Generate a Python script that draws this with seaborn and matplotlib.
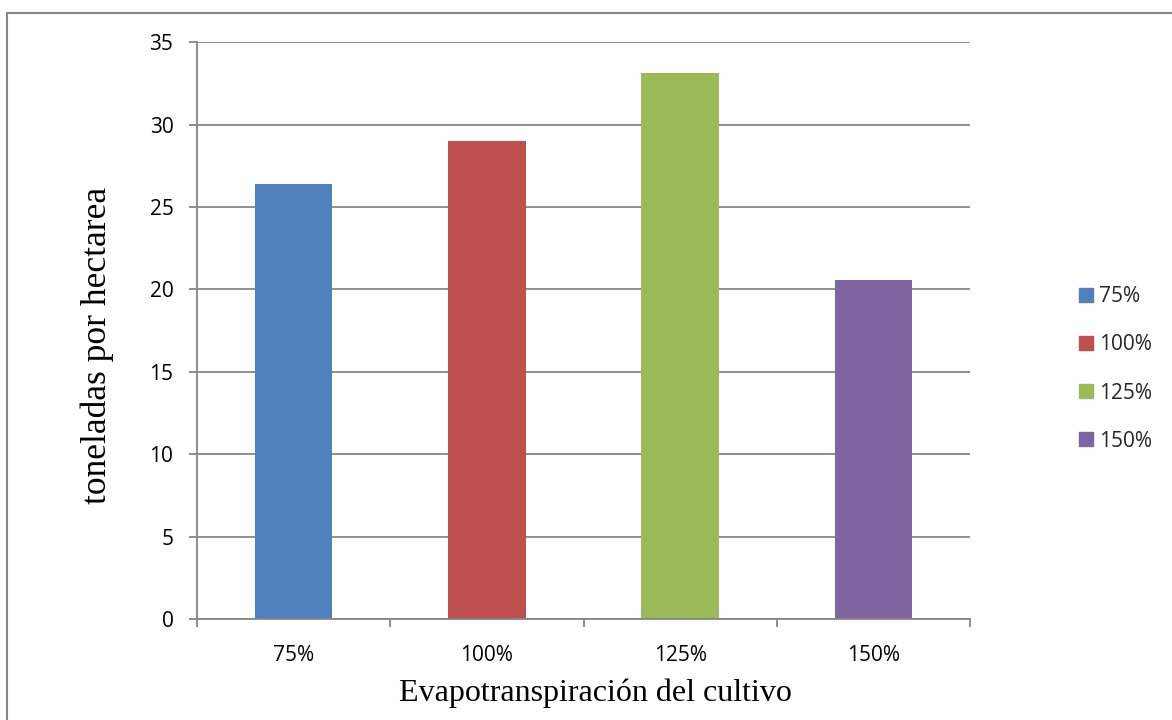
import matplotlib
matplotlib.use("Agg")
import matplotlib.pyplot as plt
import seaborn as sns
import pandas as pd
from matplotlib.lines import Line2D

# Yield by crop evapotranspiration level
categories = ["75%", "100%", "125%", "150%"]
yields = [26.4, 29.0, 33.15, 20.55]
colors = ["#4F81BD", "#C0504D", "#9BBB59", "#8064A2"]
y_ticks = [0, 5, 10, 15, 20, 25, 30, 35]

sns.set_theme(style="white")
plt.rcParams["font.family"] = ["Open Sans", "DejaVu Sans"]

df = pd.DataFrame({"etc": categories, "t_ha": yields})

fig = plt.figure(figsize=(11.72, 7.2), dpi=100)
ax = fig.add_axes([197 / 1172, 1 - 619 / 720, (970 - 197) / 1172, (619 - 42.3) / 720])

sns.barplot(data=df, x="etc", y="t_ha", hue="etc", palette=colors,
            order=categories, hue_order=categories, width=0.4,
            dodge=False, legend=False, saturation=1, linewidth=0, ax=ax)

grid_c = "#868686"
ax.set_ylim(0, 35)
ax.set_xlim(-0.5, 3.5)
ax.set_yticks(y_ticks)
ax.yaxis.grid(True, color=grid_c, linewidth=1.3)
ax.set_axisbelow(True)

for side in ("top", "right"):
    ax.spines[side].set_visible(False)
for side in ("left", "bottom"):
    ax.spines[side].set_color(grid_c)
    ax.spines[side].set_linewidth(1.3)

# category labels without marks; boundary tick marks between categories
ax.tick_params(axis="x", which="major", length=0, pad=19, labelsize=15, labelcolor="black")
ax.set_xticks([-0.5, 0.5, 1.5, 2.5, 3.5], minor=True)
ax.tick_params(axis="x", which="minor", length=6, width=1.3, color=grid_c, direction="out", bottom=True)
ax.tick_params(axis="y", length=6, width=1.3, color=grid_c, direction="out", left=True,
               pad=11, labelsize=15, labelcolor="black")

serif = ["Liberation Serif", "DejaVu Serif"]
ax.set_xlabel("Evapotranspiración del cultivo", family=serif, fontsize=23, color="black")
ax.set_ylabel("toneladas por hectarea", family=serif, fontsize=25.5, color="black")
ax.xaxis.set_label_coords(0.515, -0.104)
ax.yaxis.set_label_coords(-0.107, 0.475)

handles = [Line2D([0], [0], marker="s", linestyle="", markersize=10,
                  markerfacecolor=c, markeredgecolor=c) for c in colors]
fig.legend(handles, categories, loc="center left", bbox_to_anchor=(1068 / 1172, 1 - 369 / 720),
           frameon=False, fontsize=15, handlelength=0.9, handletextpad=0.2,
           labelspacing=1.3, borderaxespad=0)

# outer chart border
fig.add_artist(Line2D([7 / 1172, 7 / 1172], [0, 1 - 13 / 720], color=grid_c, linewidth=1.5,
                      transform=fig.transFigure))
fig.add_artist(Line2D([7 / 1172, 1], [1 - 13 / 720, 1 - 13 / 720], color=grid_c, linewidth=1.5,
                      transform=fig.transFigure))

fig.savefig("out.png", dpi=100, facecolor="white")
